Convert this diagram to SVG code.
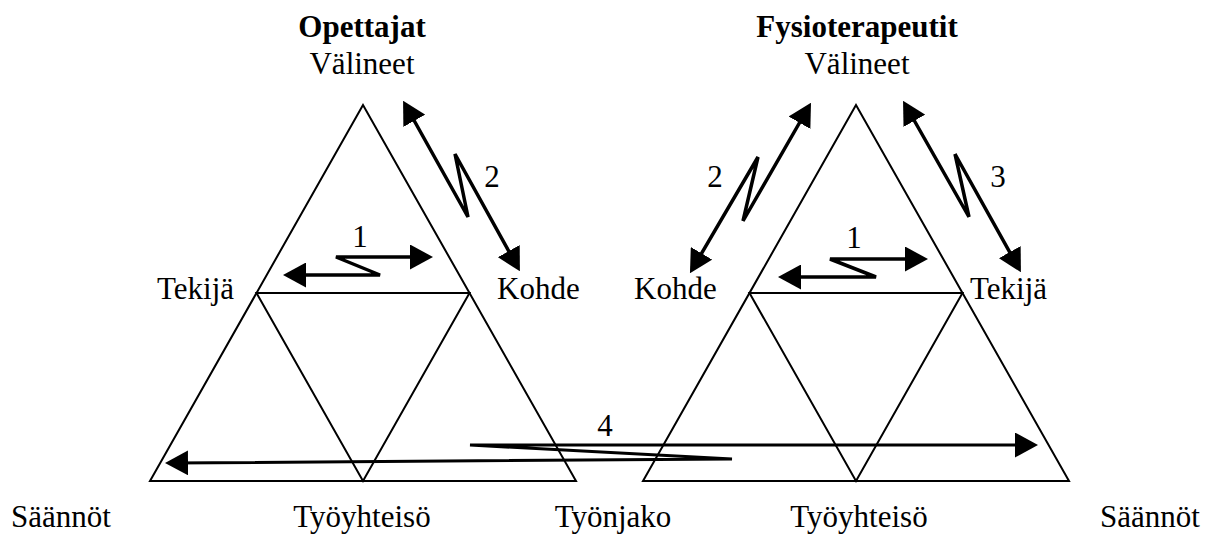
<svg xmlns="http://www.w3.org/2000/svg" width="1209" height="536" viewBox="0 0 1209 536">
<style>
  .tri { fill: none; stroke: #000; stroke-width: 2; stroke-linejoin: miter; }
  .arr { fill: none; stroke: #000; stroke-width: 3.5; stroke-linejoin: miter; marker-start: url(#ah); marker-end: url(#ah); }
  .t { font-family: "Liberation Serif", "Times New Roman", serif; font-size: 31px; fill: #000; }
  .b { font-weight: bold; }
  .m { text-anchor: middle; }
</style>
<defs>
  <marker id="ah" viewBox="0 0 23 25" refX="17" refY="12.5" markerWidth="23" markerHeight="25" markerUnits="userSpaceOnUse" orient="auto-start-reverse">
    <path d="M0,0 L23,12.5 L0,25 z" fill="#000"/>
  </marker>
</defs>
<rect width="1209" height="536" fill="#fff"/>

<g id="triangle-opettajat">
  <path class="tri" d="M363,105 L150,481 L576,481 Z"/>
  <path class="tri" d="M256.5,293 L469.5,293 L363,481 Z"/>
</g>
<g id="triangle-fysioterapeutit">
  <path class="tri" d="M856,105 L643,481 L1069,481 Z"/>
  <path class="tri" d="M749.5,293 L962.5,293 L856,481 Z"/>
</g>

<g id="labels-opettajat">
  <text class="t b m" x="362" y="37">Opettajat</text>
  <text class="t m" x="362" y="74">Välineet</text>
  <text class="t" x="157" y="299">Tekijä</text>
  <text class="t" x="497" y="299">Kohde</text>
</g>
<g id="labels-fysioterapeutit">
  <text class="t b m" x="857" y="37">Fysioterapeutit</text>
  <text class="t m" x="857" y="74">Välineet</text>
  <text class="t" x="634" y="299">Kohde</text>
  <text class="t" x="970" y="299">Tekijä</text>
</g>
<g id="labels-bottom">
  <text class="t" x="11" y="527">Säännöt</text>
  <text class="t m" x="362" y="527">Työyhteisö</text>
  <text class="t m" x="613" y="527">Työnjako</text>
  <text class="t m" x="859" y="527">Työyhteisö</text>
  <text class="t" x="1100" y="527">Säännöt</text>
</g>

<g id="connectors">
  <path class="arr" d="M289,275 L380,275 L336,257 L427,257"/>
  <path class="arr" d="M406,106 L468,217 L455,154 L517,266"/>
  <path class="arr" d="M808,108 L743,221 L758,157 L693,268"/>
  <path class="arr" d="M906,106 L969,217 L955,154 L1018,267"/>
  <path class="arr" d="M784,277 L876,277 L830,259 L922,259"/>
  <path class="arr" style="stroke-width:3" d="M171,463 L732,459 L470,445 L1032,445"/>
</g>
<g id="connector-labels">
  <text class="t m" x="360" y="247">1</text>
  <text class="t m" x="492" y="187">2</text>
  <text class="t m" x="715" y="187">2</text>
  <text class="t m" x="998" y="187">3</text>
  <text class="t m" x="854" y="248">1</text>
  <text class="t m" x="605" y="436">4</text>
</g>
</svg>
